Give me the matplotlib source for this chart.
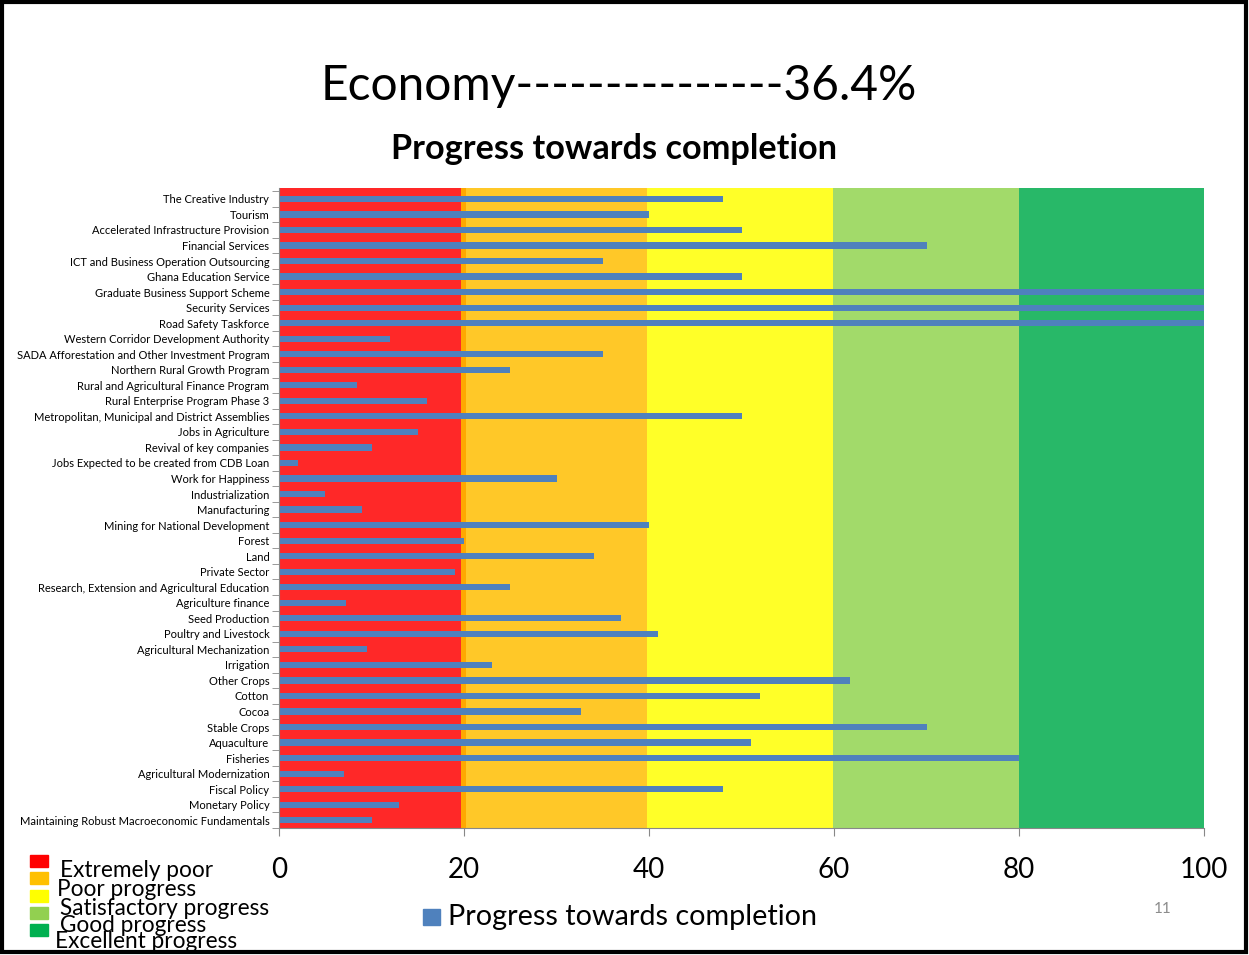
import matplotlib.pyplot as plt
from matplotlib.patches import Rectangle

plt.rcParams["font.family"] = ["Lato", "DejaVu Sans"]

categories = [
    "The Creative Industry",
    "Tourism",
    "Accelerated Infrastructure Provision",
    "Financial Services",
    "ICT and Business Operation Outsourcing",
    "Ghana Education Service",
    "Graduate Business Support Scheme",
    "Security Services",
    "Road Safety Taskforce",
    "Western Corridor Development Authority",
    "SADA Afforestation and Other Investment Program",
    "Northern Rural Growth Program",
    "Rural and Agricultural Finance Program",
    "Rural Enterprise Program Phase 3",
    "Metropolitan, Municipal and District Assemblies",
    "Jobs in Agriculture",
    "Revival of key companies",
    "Jobs Expected to be created from CDB Loan",
    "Work for Happiness",
    "Industrialization",
    "Manufacturing",
    "Mining for National Development",
    "Forest",
    "Land",
    "Private Sector",
    "Research, Extension and Agricultural Education",
    "Agriculture finance",
    "Seed Production",
    "Poultry and Livestock",
    "Agricultural Mechanization",
    "Irrigation",
    "Other Crops",
    "Cotton",
    "Cocoa",
    "Stable Crops",
    "Aquaculture",
    "Fisheries",
    "Agricultural Modernization",
    "Fiscal Policy",
    "Monetary Policy",
    "Maintaining Robust Macroeconomic Fundamentals",
]
progress = [
    48, 40, 50, 70, 35, 50, 100, 100, 100, 12,
    35, 25, 8.4, 16, 50, 15, 10, 2, 30, 5,
    9, 40, 20, 34, 19, 25, 7.2, 37, 41, 9.5,
    23, 61.7, 52, 32.7, 70, 51, 80, 7, 48, 13,
    10,
]

band_edges = [0, 19.7, 20.2, 39.8, 59.9, 80, 100]
band_colors = ["#FF2828", "#FFA800", "#FFC828", "#FFFF28", "#A2DA6A", "#28B868"]

legend_labels = ["Extremely poor", "Poor progress", "Satisfactory progress",
                 "Good progress", "Excellent progress"]
legend_colors = ["#FF0000", "#FFC000", "#FFFF00", "#92D050", "#00B050"]

xticks = [0, 20, 40, 60, 80, 100]

fig = plt.figure(figsize=(12.49, 9.55), dpi=100)
ax = fig.add_axes([279 / 1249, 1 - 828 / 955, 925 / 1249, 640 / 955])

for lo, hi, c in zip(band_edges[:-1], band_edges[1:], band_colors):
    ax.axvspan(lo, hi, color=c, lw=0, zorder=0)

n = len(categories)
ypos = list(range(n))
ax.barh(ypos, progress, height=0.4, color="#4F81BD", zorder=2)
ax.set_yticks(ypos)
ax.set_yticklabels(categories, fontsize=8)
ax.set_ylim(n - 0.7, -0.7)
ax.set_xlim(0, 100)
ax.set_xticks(xticks)
ax.set_xticklabels([str(t) for t in xticks], fontsize=20)
ax.tick_params(axis="x", length=6, color="#888888", pad=15)
ax.set_yticks([i - 0.5 for i in range(n + 1)], minor=True)
ax.tick_params(axis="y", which="major", length=0, pad=7)
ax.tick_params(axis="y", which="minor", length=5, color="#888888")
for s in ["top", "right"]:
    ax.spines[s].set_visible(False)
ax.spines["left"].set_color("#888888")
ax.spines["bottom"].set_color("#888888")

fig.text(619 / 1249, 1 - 86 / 955, "Economy---------------36.4%", fontsize=34.5,
         ha="center", va="center")
fig.text(614 / 1249, 1 - 149 / 955, "Progress towards completion", fontsize=24.7,
         fontweight="bold", ha="center", va="center")

# left-hand colour key
text_pos = [(60, 870), (57, 889), (60, 908), (60, 925), (55, 941)]
for i, (lab, col) in enumerate(zip(legend_labels, legend_colors)):
    y0 = 855 + i * 17.3
    fig.patches.append(Rectangle((30 / 1249, 1 - (y0 + 12) / 955), 18 / 1249, 12 / 955,
                                 transform=fig.transFigure, color=col))
    tx, ty = text_pos[i]
    fig.text(tx / 1249, 1 - ty / 955, lab, fontsize=16.3, ha="left", va="center")

# series key
fig.patches.append(Rectangle((423 / 1249, 1 - 925 / 955), 17 / 1249, 16 / 955,
                             transform=fig.transFigure, color="#4F81BD"))
fig.text(448 / 1249, 1 - 917 / 955, "Progress towards completion", fontsize=20.7,
         ha="left", va="center")

fig.text(1163 / 1249, 1 - 909 / 955, "11", fontsize=11, color="#8C8C8C",
         ha="center", va="center")

# slide frame
fig.patches.append(Rectangle((0.0015, 0.003), 0.996, 0.995, transform=fig.transFigure,
                             fill=False, ec="black", lw=3))

fig.savefig("out.png", dpi=100)
